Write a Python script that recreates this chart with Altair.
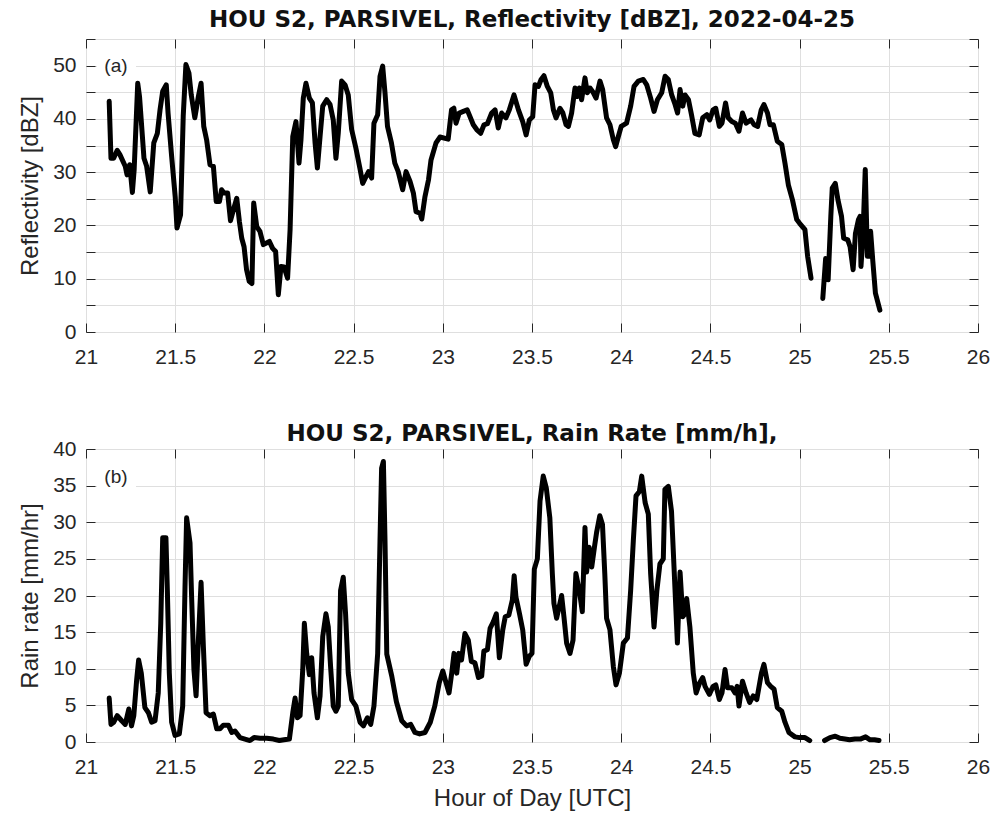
import altair as alt
import pandas as pd

# ---------------- data ----------------
hours_a = [21.13, 21.14, 21.155, 21.175, 21.19, 21.22, 21.23, 21.245, 21.26, 21.27,
           21.29, 21.30, 21.325, 21.34, 21.36, 21.38, 21.40, 21.415, 21.43, 21.45,
           21.46, 21.48, 21.50, 21.51, 21.53, 21.545, 21.56, 21.577, 21.59, 21.61,
           21.63, 21.645, 21.66, 21.676, 21.695, 21.714, 21.73, 21.748, 21.76, 21.774,
           21.794, 21.81, 21.826, 21.845, 21.86, 21.873, 21.886, 21.90, 21.915, 21.93,
           21.94, 21.957, 21.975, 21.994, 22.028, 22.046, 22.063, 22.078, 22.093, 22.11,
           22.13, 22.144, 22.159, 22.177, 22.194, 22.205, 22.218, 22.233, 22.252, 22.269,
           22.284, 22.297, 22.312, 22.327, 22.349, 22.368, 22.386, 22.401, 22.414, 22.433,
           22.452, 22.47, 22.489, 22.513, 22.535, 22.551, 22.57, 22.584, 22.601, 22.614,
           22.635, 22.648, 22.663, 22.676, 22.69, 22.712, 22.731, 22.75, 22.775, 22.794,
           22.816, 22.835, 22.85, 22.872, 22.882, 22.9, 22.92, 22.934, 22.962, 22.984,
           23.03, 23.049, 23.062, 23.074, 23.092, 23.115, 23.137, 23.171, 23.19, 23.212,
           23.231, 23.25, 23.274, 23.293, 23.311, 23.33, 23.354, 23.373, 23.399, 23.424,
           23.448, 23.467, 23.485, 23.504, 23.517, 23.536, 23.551, 23.567, 23.586, 23.605,
           23.62, 23.635, 23.657, 23.672, 23.691, 23.704, 23.722, 23.741, 23.754, 23.765,
           23.778, 23.797, 23.81, 23.825, 23.844, 23.859, 23.881, 23.896, 23.918, 23.937,
           23.956, 23.969, 23.984, 24.0, 24.03, 24.053, 24.072, 24.096, 24.124, 24.143,
           24.165, 24.184, 24.203, 24.227, 24.246, 24.264, 24.283, 24.302, 24.316, 24.33,
           24.345, 24.358, 24.377, 24.394, 24.413, 24.437, 24.457, 24.48, 24.496, 24.515,
           24.53, 24.55, 24.565, 24.585, 24.60, 24.62, 24.64, 24.66, 24.68, 24.70,
           24.728, 24.745, 24.765, 24.785, 24.80, 24.82, 24.834, 24.853, 24.875, 24.90,
           24.918, 24.937, 24.96, 24.984, 25.0, 25.03, 25.045, 25.064, None, 25.13,
           25.146, 25.16, 25.175, 25.183, 25.20, 25.215, 25.235, 25.247, 25.27, 25.283,
           25.30, 25.313, 25.33, 25.339, 25.344, 25.355, 25.368, 25.38, 25.394, 25.398,
           25.41, 25.425, 25.45]
refl = [43.3, 32.6, 32.6, 34.1, 33.3, 31.1, 29.5, 31.4, 26.2, 30.5,
        46.7, 44.2, 32.6, 31.1, 26.3, 35.5, 37.3, 41.7, 45.2, 46.4,
        41.1, 33.0, 25.4, 19.5, 22.0, 40.5, 50.2, 48.6, 44.5, 40.2,
        44.2, 46.7, 38.6, 36.1, 31.4, 31.1, 24.5, 24.5, 26.7, 26.1,
        26.1, 20.9, 22.9, 25.1, 20.7, 17.6, 16.0, 11.7, 9.5, 9.1,
        24.2, 19.8, 18.9, 16.4, 17.0, 15.7, 15.1, 7.0, 12.3, 12.2,
        10.1, 19.2, 36.7, 39.5, 31.7, 36.1, 43.9, 46.7, 43.9, 43.0,
        35.5, 30.8, 36.7, 42.4, 43.6, 42.7, 39.8, 32.6, 37.3, 47.1,
        46.4, 44.5, 38.0, 34.5, 30.8, 27.9, 29.2, 30.1, 28.9, 39.2,
        40.8, 48.0, 49.9, 44.9, 38.6, 35.5, 31.7, 30.1, 26.7, 30.1,
        28.3, 26.1, 22.6, 22.3, 21.2, 25.4, 28.6, 32.3, 35.5, 36.6,
        36.2, 41.7, 42.0, 39.2, 41.1, 41.4, 41.7, 38.9, 38.0, 37.3,
        38.9, 39.1, 41.1, 41.7, 38.3, 41.1, 40.2, 41.7, 44.5, 41.7,
        39.5, 37.0, 39.8, 40.4, 46.4, 46.1, 47.4, 48.1, 46.1, 44.9,
        41.7, 40.2, 42.0, 41.2, 38.9, 38.6, 41.1, 45.8, 44.2, 45.8,
        43.6, 47.7, 44.9, 45.8, 44.9, 43.9, 47.1, 45.5, 40.2, 38.9,
        36.1, 34.8, 36.7, 38.6, 39.2, 42.4, 46.1, 47.1, 47.4, 46.4,
        43.9, 41.4, 43.6, 44.9, 48.0, 47.4, 44.5, 42.7, 41.1, 45.5,
        42.4, 44.5, 43.6, 40.8, 37.3, 37.0, 40.2, 40.8, 39.8, 41.7,
        42.0, 38.6, 39.2, 43.0, 40.2, 39.5, 39.2, 37.7, 41.1, 39.2,
        39.8, 38.9, 38.6, 41.7, 42.7, 41.1, 38.9, 38.9, 35.8, 35.2,
        31.7, 27.6, 24.8, 21.1, 20.4, 19.2, 14.2, 10.1, None, 6.3,
        13.8, 9.8, 21.7, 27.0, 27.9, 24.8, 21.7, 17.6, 17.3, 16.0,
        11.7, 18.5, 21.1, 21.7, 12.3, 17.9, 30.5, 14.2, 14.2, 18.9,
        13.5, 7.3, 4.1]

hours_b = [21.13, 21.14, 21.155, 21.175, 21.2, 21.22, 21.24, 21.255, 21.268, 21.284,
           21.295, 21.31, 21.33, 21.35, 21.368, 21.387, 21.405, 21.419, 21.43, 21.448,
           21.456, 21.467, 21.48, 21.499, 21.523, 21.542, 21.555, 21.564, 21.583, 21.592,
           21.605, 21.617, 21.63, 21.645, 21.658, 21.673, 21.695, 21.714, 21.733, 21.751,
           21.77, 21.798, 21.817, 21.835, 21.863, 21.891, 21.919, 21.942, 21.975, 22.013,
           22.05, 22.084, 22.11, 22.14, 22.159, 22.172, 22.185, 22.2, 22.215, 22.224,
           22.237, 22.252, 22.265, 22.278, 22.297, 22.312, 22.327, 22.345, 22.358, 22.371,
           22.386, 22.401, 22.414, 22.427, 22.442, 22.455, 22.47, 22.489, 22.513, 22.536,
           22.555, 22.577, 22.596, 22.614, 22.635, 22.648, 22.657, 22.667, 22.676, 22.686,
           22.714, 22.74, 22.77, 22.797, 22.82, 22.844, 22.87, 22.9, 22.93, 22.955,
           22.98, 23.0, 23.018, 23.035, 23.05, 23.063, 23.078, 23.09, 23.105, 23.124,
           23.143, 23.16, 23.18, 23.2, 23.218, 23.23, 23.25, 23.265, 23.283, 23.3,
           23.317, 23.336, 23.35, 23.37, 23.39, 23.4, 23.41, 23.43, 23.448, 23.467,
           23.485, 23.50, 23.513, 23.53, 23.545, 23.563, 23.58, 23.6, 23.614, 23.623,
           23.638, 23.666, 23.679, 23.694, 23.713, 23.73, 23.746, 23.765, 23.782, 23.797,
           23.806, 23.82, 23.835, 23.85, 23.862, 23.88, 23.895, 23.908, 23.918, 23.937,
           23.956, 23.971, 23.99, 24.012, 24.035, 24.053, 24.068, 24.083, 24.102, 24.115,
           24.134, 24.152, 24.165, 24.184, 24.2, 24.217, 24.236, 24.245, 24.264, 24.282,
           24.296, 24.315, 24.33, 24.345, 24.358, 24.367, 24.385, 24.404, 24.42, 24.44,
           24.457, 24.47, 24.494, 24.515, 24.53, 24.55, 24.565, 24.582, 24.596, 24.62,
           24.638, 24.65, 24.66, 24.68, 24.70, 24.72, 24.74, 24.76, 24.786, 24.80,
           24.82, 24.838, 24.857, 24.875, 24.9, 24.918, 24.94, 24.974, 25.0, 25.03,
           25.057, None, 25.14, 25.17, 25.2, 25.226, 25.254, 25.28, 25.31, 25.34,
           25.37, 25.395, 25.42, 25.445]
rain = [6.0, 2.4, 2.7, 3.6, 2.9, 2.4, 4.5, 2.2, 3.6, 8.5,
        11.2, 9.4, 4.7, 4.0, 2.7, 2.9, 6.7, 16.2, 27.9, 27.9,
        20.7, 9.4, 2.7, 0.9, 1.1, 4.9, 21.2, 30.6, 27.2, 19.8,
        9.9, 6.3, 13.9, 21.8, 13.0, 4.0, 3.6, 3.8, 1.8, 1.8,
        2.3, 2.3, 1.3, 1.5, 0.6, 0.4, 0.2, 0.6, 0.5, 0.5,
        0.4, 0.2, 0.3, 0.4, 4.0, 6.0, 3.3, 3.6, 9.9, 16.2,
        12.1, 9.2, 11.5, 6.7, 3.3, 6.3, 14.4, 17.5, 15.7, 10.3,
        4.9, 4.2, 4.9, 20.7, 22.5, 17.5, 9.4, 5.8, 4.9, 2.7,
        2.2, 3.3, 2.4, 4.9, 12.1, 27.5, 37.4, 38.3, 27.5, 12.0,
        9.0, 5.5, 2.9, 2.2, 2.4, 1.3, 1.1, 1.3, 2.7, 4.9,
        8.1, 9.7, 8.1, 6.7, 9.4, 12.1, 9.4, 12.1, 11.2, 14.8,
        13.9, 11.0, 10.8, 8.8, 9.0, 12.4, 12.6, 15.5, 16.4, 17.5,
        11.5, 15.3, 17.1, 17.3, 19.4, 22.7, 19.8, 17.5, 15.3, 10.6,
        11.7, 12.1, 23.6, 25.0, 32.9, 36.3, 34.7, 30.6, 23.0, 18.9,
        16.9, 20.0, 17.1, 13.5, 12.1, 13.9, 23.0, 20.7, 17.8, 29.3,
        23.2, 26.6, 23.9, 26.6, 28.6, 30.9, 29.7, 23.0, 16.9, 15.3,
        10.3, 7.8, 9.4, 13.5, 14.2, 20.7, 27.5, 33.6, 34.2, 36.3,
        32.7, 31.1, 23.0, 15.7, 20.7, 24.3, 25.0, 34.5, 34.9, 31.5,
        23.9, 13.5, 23.2, 17.1, 17.5, 19.6, 15.7, 9.4, 6.7, 8.1,
        8.8, 7.6, 6.5, 7.6, 7.8, 5.8, 6.7, 9.9, 7.4, 7.4,
        6.7, 7.6, 4.9, 8.3, 6.7, 5.4, 6.3, 5.8, 9.4, 10.6,
        8.1, 7.6, 7.2, 4.7, 4.2, 2.7, 1.3, 0.7, 0.6, 0.6,
        0.2, None, 0.2, 0.6, 0.8, 0.5, 0.4, 0.3, 0.4, 0.4,
        0.7, 0.3, 0.3, 0.2]

x_ticks = [21, 21.5, 22, 22.5, 23, 23.5, 24, 24.5, 25, 25.5, 26]
title_a = "HOU S2, PARSIVEL, Reflectivity [dBZ], 2022-04-25"
title_b = "HOU S2, PARSIVEL, Rain Rate [mm/h],"
ytitle_a = "Reflectivity [dBZ]"
ytitle_b = "Rain rate [mm/hr]"
xtitle = "Hour of Day [UTC]"

FONT = "DejaVu Sans"
GRAY = "#262626"
GRID = "#dfdfdf"


def to_frame(hours, vals):
    rows, seg = [], 0
    for h, v in zip(hours, vals):
        if h is None or v is None:
            seg += 1
            continue
        rows.append({"hour": h, "val": v, "seg": seg})
    return pd.DataFrame(rows)


def panel(df, ymax, label_expr, ytitle, title, title_offset, tag, tag_y, show_xtitle):
    xscale = alt.Scale(domain=[21, 26], nice=False, zero=False)
    yscale = alt.Scale(domain=[0, ymax], nice=False, zero=False)
    yvals = list(range(0, ymax + 1, 5))

    xaxis_kw = dict(values=x_ticks, orient="bottom", offset=-9, tickSize=9,
                    tickColor=GRAY, domain=False, grid=True, gridColor=GRID,
                    labelFontSize=21, labelColor=GRAY, labelPadding=14,
                    labelFlush=False, format="~g")
    if show_xtitle:
        xaxis_kw.update(title=xtitle, titleFontSize=24, titleFontWeight="normal",
                        titleColor=GRAY, titlePadding=9)
    else:
        xaxis_kw.update(title=None)

    line = alt.Chart(df).mark_line(
        color="black", strokeWidth=5, strokeJoin="round", strokeCap="round"
    ).encode(
        x=alt.X("hour:Q", scale=xscale, axis=alt.Axis(**xaxis_kw)),
        y=alt.Y("val:Q", scale=yscale, axis=alt.Axis(
            values=yvals, orient="left", offset=-9, tickSize=9, tickColor=GRAY,
            domain=False, grid=True, gridColor=GRID, labelExpr=label_expr,
            labelFontSize=21, labelColor=GRAY, labelPadding=10,
            labelFlush=False,
            title=ytitle, titleFontSize=24, titleFontWeight="normal",
            titleColor=GRAY, titlePadding=10)),
        detail="seg:N",
    )

    box = alt.Chart(pd.DataFrame({"k": [0]})).mark_rect(color="white").encode(
        x=alt.value(11), x2=alt.value(50), y=alt.value(16), y2=alt.value(38)
    )

    tag_df = pd.DataFrame({"hour": [21.168], "val": [tag_y], "tag": [tag]})
    text = alt.Chart(tag_df).mark_text(
        fontSize=19, color=GRAY, align="center", baseline="middle"
    ).encode(
        x=alt.X("hour:Q", scale=xscale, axis=alt.Axis(
            values=x_ticks, orient="top", offset=-9, tickSize=9, tickColor=GRAY,
            domain=False, grid=False, labels=False, title=None)),
        y=alt.Y("val:Q", scale=yscale, axis=alt.Axis(
            values=yvals, orient="right", offset=-9, tickSize=9, tickColor=GRAY,
            domain=False, grid=False, labels=False, title=None)),
        text="tag:N",
    )

    return alt.layer(box, line, text).resolve_axis(
        x="independent", y="independent"
    ).properties(
        width=892, height=293,
        title=alt.TitleParams(title, fontSize=23, fontWeight="bold", color="#111111",
                              font=FONT, anchor="middle", frame="group",
                              offset=title_offset),
    )


top = panel(to_frame(hours_a, refl), 55,
            "datum.value % 10 == 0 ? datum.label : ''",
            ytitle_a, title_a, 7, "(a)", 50, False)
bottom = panel(to_frame(hours_b, rain), 40, "datum.label",
               ytitle_b, title_b, -8, "(b)", 36.2, True)

chart = alt.vconcat(top, bottom, spacing=117, bounds="flush").properties(
    padding={"left": 18, "top": 8, "right": 5, "bottom": 2}
).configure_view(
    stroke=GRAY, strokeWidth=1.2
).configure_axis(
    labelFont=FONT, titleFont=FONT
).configure_text(font=FONT).configure(background="white")

chart.save("out.html", embed_options={"renderer": "svg", "actions": False})
